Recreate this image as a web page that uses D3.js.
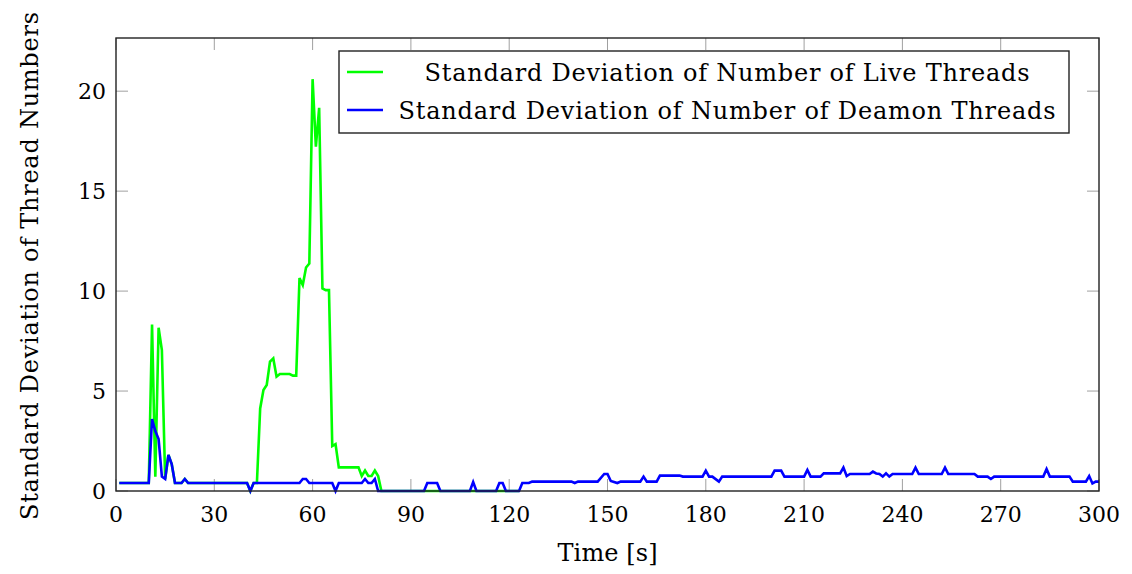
<!DOCTYPE html>
<html>
<head>
<meta charset="utf-8">
<script src="https://cdn.jsdelivr.net/npm/d3@7"></script>
<style>
body { margin: 0; background: #fff; }
text { font-family: "DejaVu Serif", "Liberation Serif", serif; fill: #000; }
</style>
</head>
<body>
<svg width="1132" height="574"></svg>
<script>
// vertices of each line (time in s, standard deviation)
var liveTime = [1, 10, 11, 12, 13, 14, 15, 16, 17, 18, 20, 21, 22, 40, 41, 42, 43, 44, 45, 46, 47, 48, 49, 50, 53, 54, 55, 56, 57, 58, 59, 60, 61, 62, 63, 64, 65, 66, 67, 68, 74, 75, 76, 77, 78, 79, 80, 81, 123];
var liveValue = [0.4, 0.4, 8.33, 0.72, 8.17, 7.05, 0.6, 1.8, 1.35, 0.4, 0.4, 0.6, 0.4, 0.4, 0, 0.4, 0.4, 4.13, 5.05, 5.3, 6.47, 6.63, 5.72, 5.85, 5.85, 5.77, 5.77, 10.65, 10.3, 11.18, 11.38, 20.6, 17.22, 19.17, 10.13, 10.05, 10.05, 2.25, 2.35, 1.18, 1.18, 0.75, 1.02, 0.75, 0.75, 1.02, 0.75, 0, 0];

var daemonTime = [1, 10, 11, 12, 13, 14, 15, 16, 17, 18, 20, 21, 22, 40, 41, 42, 56, 57, 58, 59, 66, 67, 68, 75, 76, 77, 78, 79, 80, 94, 95, 98, 99, 108, 109, 110, 116, 117, 118, 119, 123, 124, 126, 127, 139, 140, 141, 147, 149, 150, 151, 153, 154, 160, 161, 162, 165, 166, 172, 173, 179, 180, 181, 182, 184, 185, 200, 201, 203, 204, 210, 211, 212, 215, 216, 221, 222, 223, 224, 230, 231, 232, 233, 234, 235, 236, 237, 243, 244, 245, 252, 253, 254, 262, 263, 266, 267, 268, 283, 284, 285, 291, 292, 296, 297, 298, 299, 300];
var daemonValue = [0.4, 0.4, 3.6, 3.0, 2.6, 0.72, 0.6, 1.8, 1.35, 0.4, 0.4, 0.6, 0.4, 0.4, 0, 0.4, 0.4, 0.6, 0.6, 0.4, 0.4, 0, 0.4, 0.4, 0.6, 0.4, 0.4, 0.6, 0, 0, 0.4, 0.4, 0, 0, 0.45, 0, 0, 0.4, 0.4, 0, 0, 0.4, 0.4, 0.47, 0.47, 0.4, 0.47, 0.47, 0.85, 0.85, 0.5, 0.4, 0.47, 0.47, 0.72, 0.47, 0.47, 0.77, 0.77, 0.72, 0.72, 1.02, 0.72, 0.72, 0.47, 0.72, 0.72, 1.02, 1.02, 0.72, 0.72, 1.05, 0.72, 0.72, 0.88, 0.88, 1.17, 0.75, 0.85, 0.85, 0.97, 0.88, 0.85, 0.72, 0.88, 0.72, 0.85, 0.85, 1.17, 0.85, 0.85, 1.17, 0.85, 0.85, 0.72, 0.72, 0.6, 0.72, 0.72, 1.1, 0.72, 0.72, 0.47, 0.47, 0.75, 0.38, 0.47, 0.47];

var xTicks = [0, 30, 60, 90, 120, 150, 180, 210, 240, 270, 300];
var yTicks = [0, 5, 10, 15, 20];
var seriesNames = ["Standard Deviation of Number of Live Threads", "Standard Deviation of Number of Deamon Threads"];
var seriesColors = ["#00ff00", "#0000ff"];

var svg = d3.select("svg");

var plotLeft = 116, plotRight = 1099, plotTop = 38, plotBottom = 491;

var x = d3.scaleLinear().domain([0, 300]).range([plotLeft, plotRight]);
var y = d3.scaleLinear().domain([0, 22.66]).range([plotBottom, plotTop]);

var series = [
    d3.zip(liveTime, liveValue),
    d3.zip(daemonTime, daemonValue)
];

var line = d3.line()
    .x(function (d) { return x(d[0]); })
    .y(function (d) { return y(d[1]); });

// inward ticks on all four sides
var tickLen = 12;
var ticks = svg.append("g").attr("stroke", "#a0a0a0").attr("stroke-width", 1);
xTicks.forEach(function (t) {
    ticks.append("line").attr("x1", x(t)).attr("x2", x(t)).attr("y1", plotBottom).attr("y2", plotBottom - tickLen);
    ticks.append("line").attr("x1", x(t)).attr("x2", x(t)).attr("y1", plotTop).attr("y2", plotTop + tickLen);
});
yTicks.forEach(function (t) {
    ticks.append("line").attr("x1", plotLeft).attr("x2", plotLeft + tickLen).attr("y1", y(t)).attr("y2", y(t));
    ticks.append("line").attr("x1", plotRight).attr("x2", plotRight - tickLen).attr("y1", y(t)).attr("y2", y(t));
});

svg.append("g").selectAll("path")
    .data(series)
    .enter().append("path")
    .attr("d", line)
    .attr("fill", "none")
    .attr("stroke", function (d, i) { return seriesColors[i]; })
    .attr("stroke-width", 2.6)
    .attr("stroke-linejoin", "miter");

svg.append("rect")
    .attr("x", plotLeft).attr("y", plotTop)
    .attr("width", plotRight - plotLeft).attr("height", plotBottom - plotTop)
    .attr("fill", "none").attr("stroke", "#222").attr("stroke-width", 1.4);

svg.append("g").selectAll("text")
    .data(xTicks)
    .enter().append("text")
    .attr("x", function (d) { return x(d); })
    .attr("y", plotBottom + 31)
    .attr("text-anchor", "middle")
    .style("font-size", "22px")
    .text(function (d) { return d; });

svg.append("g").selectAll("text")
    .data(yTicks)
    .enter().append("text")
    .attr("x", plotLeft - 10)
    .attr("y", function (d) { return y(d) + 8; })
    .attr("text-anchor", "end")
    .style("font-size", "22px")
    .text(function (d) { return d; });

svg.append("text")
    .attr("x", (plotLeft + plotRight) / 2)
    .attr("y", 561)
    .attr("text-anchor", "middle")
    .attr("textLength", 100)
    .style("font-size", "24px")
    .text("Time [s]");

svg.append("text")
    .attr("transform", "translate(38,266) rotate(-90)")
    .attr("text-anchor", "middle")
    .attr("textLength", 508)
    .style("font-size", "24px")
    .text("Standard Deviation of Thread Numbers");

// legend
var legend = svg.append("g");
legend.append("rect")
    .attr("x", 339).attr("y", 51)
    .attr("width", 730).attr("height", 82)
    .attr("fill", "#fff").attr("stroke", "#222").attr("stroke-width", 1.4);

var textWidths = [605, 657];

var entry = legend.selectAll("g")
    .data(seriesNames)
    .enter().append("g")
    .attr("transform", function (d, i) { return "translate(0," + (72 + i * 38) + ")"; });

entry.append("line")
    .attr("x1", 347).attr("x2", 383)
    .attr("stroke", function (d, i) { return seriesColors[i]; })
    .attr("stroke-width", 2.6);

entry.append("text")
    .attr("x", 727)
    .attr("y", 9)
    .attr("text-anchor", "middle")
    .attr("textLength", function (d, i) { return textWidths[i]; })
    .style("font-size", "24px")
    .text(function (d) { return d; });
</script>
</body>
</html>
